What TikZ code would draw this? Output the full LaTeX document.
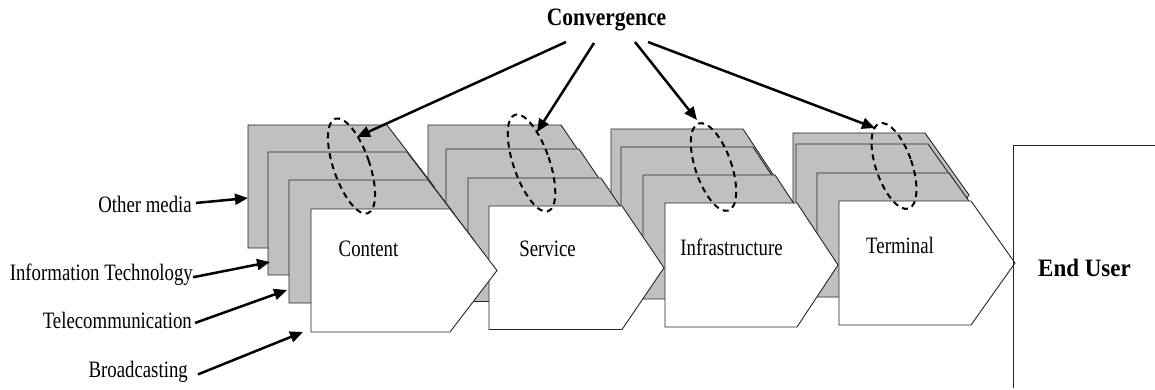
\documentclass[tikz,border=0pt]{standalone}
\usepackage{fontspec}
\setmainfont{Liberation Serif}
\newfontfamily\lblfont[FakeStretch=0.8]{Liberation Serif}
\newfontfamily\bldfont[FakeStretch=0.86]{Liberation Serif}
\newfontfamily\bldwide[FakeStretch=0.92]{Liberation Serif}
\usetikzlibrary{arrows.meta}
\definecolor{layergray}{RGB}{192,192,192}
\newcommand\mychev[6]{%
  \filldraw[#6] (#1,#2) -- ++(#3,0) -- ++(#4,#5/2) -- ++(-#4,#5/2) -- ++(-#3,0) -- cycle;}
\tikzset{
  back/.style={fill=layergray,draw=black!85,line width=0.9pt},
  front/.style={fill=white,draw=black!85,line width=0.9pt},
  arr/.style={line width=2.5pt,-{Triangle[length=13pt,width=11pt]}},
  ring/.style={line width=2pt,dash pattern=on 6pt off 4.5pt},
  lbl/.style={font=\lblfont\fontsize{23.5}{26}\selectfont,inner sep=0pt,anchor=base},
  side/.style={font=\lblfont\fontsize{23.5}{26}\selectfont,inner sep=0pt,anchor=base east},
  bold/.style={font=\bldfont\bfseries\fontsize{25}{28}\selectfont,inner sep=0pt,anchor=base},
  boldw/.style={font=\bldwide\bfseries\fontsize{25}{28}\selectfont,inner sep=0pt,anchor=base}
}
\begin{document}
\begin{tikzpicture}[x=1pt,y=-1pt]
\useasboundingbox (0,0) rectangle (1155,390);
% group 4 (Terminal)
\mychev{793}{133}{132}{44}{124}{back}
\mychev{796}{144}{132}{44}{124}{back}
\mychev{817}{173}{132}{44}{124}{back}
\mychev{839}{201}{132}{44}{124}{front}
% group 3 (Infrastructure)
\mychev{611}{129}{132}{41}{124}{back}
\mychev{621}{147}{132}{41}{124}{back}
\mychev{643}{175}{132}{41}{124}{back}
\mychev{665}{203}{132}{41}{124}{front}
% group 2 (Service)
\mychev{428}{125}{133}{42}{123.5}{back}
\mychev{446}{149}{133}{42}{123.5}{back}
\mychev{468}{178}{133}{42}{123.5}{back}
\mychev{489}{206}{133}{42}{123.5}{front}
% group 1 (Content)
\mychev{248}{125}{139}{47}{123}{back}
\mychev{268}{152}{139}{47}{123}{back}
\mychev{289}{180}{139}{47}{123}{back}
\mychev{311}{209}{139}{47}{123}{front}
% end user box
\draw[draw=black!85,line width=0.9pt] (1155,145) -- (1013,145) -- (1013,388);
% dashed rings
\draw[ring] (351.5,166) ellipse [x radius=18, y radius=50, rotate=19];
\draw[ring] (531.5,163) ellipse [x radius=18, y radius=51, rotate=19];
\draw[ring] (713.5,167) ellipse [x radius=18, y radius=46, rotate=19];
\draw[ring] (894,166) ellipse [x radius=18, y radius=45, rotate=19];
% labels
\node[lbl] (content) at (368.5,256) {Content};
\node[lbl] (service) at (547.5,256) {Service};
\node[lbl] (infra) at (731.5,255) {Infrastructure};
\node[lbl] (terminal) at (900,253) {Terminal};
\node[boldw] (enduser) at (1084.5,276) {End User};
\node[bold] (conv) at (606.5,26) {Convergence};
\node[side] (other) at (192,212) {Other media};
\node[side] (it) at (193,280) {Information Technology};
\node[side] (tele) at (192,328) {Telecommunication};
\node[side] (broad) at (188,377) {Broadcasting};
% coordinates
\coordinate (s1) at (566,42); \coordinate (t1) at (357,137);
\coordinate (s2) at (594,43); \coordinate (t2) at (537,132);
\coordinate (s3) at (635,42); \coordinate (t3) at (697,120);
\coordinate (s4) at (648,42); \coordinate (t4) at (875,128);
\coordinate (o1) at (248,198);
\coordinate (o2) at (270,262);
\coordinate (o3) at (287,290);
\coordinate (o4) at (303,332);
% arrows
\draw[arr] (s1) -- (t1);
\draw[arr] (s2) -- (t2);
\draw[arr] (s3) -- (t3);
\draw[arr] (s4) -- (t4);
\draw[arr] ([xshift=4pt,yshift=1pt]other.east) -- (o1);
\draw[arr] ([xshift=0pt,yshift=-3pt]it.east) -- (o2);
\draw[arr] ([xshift=3pt,yshift=-3pt]tele.east) -- (o3);
\draw[arr] ([xshift=10pt,yshift=-3pt]broad.east) -- (o4);
\end{tikzpicture}
\end{document}
